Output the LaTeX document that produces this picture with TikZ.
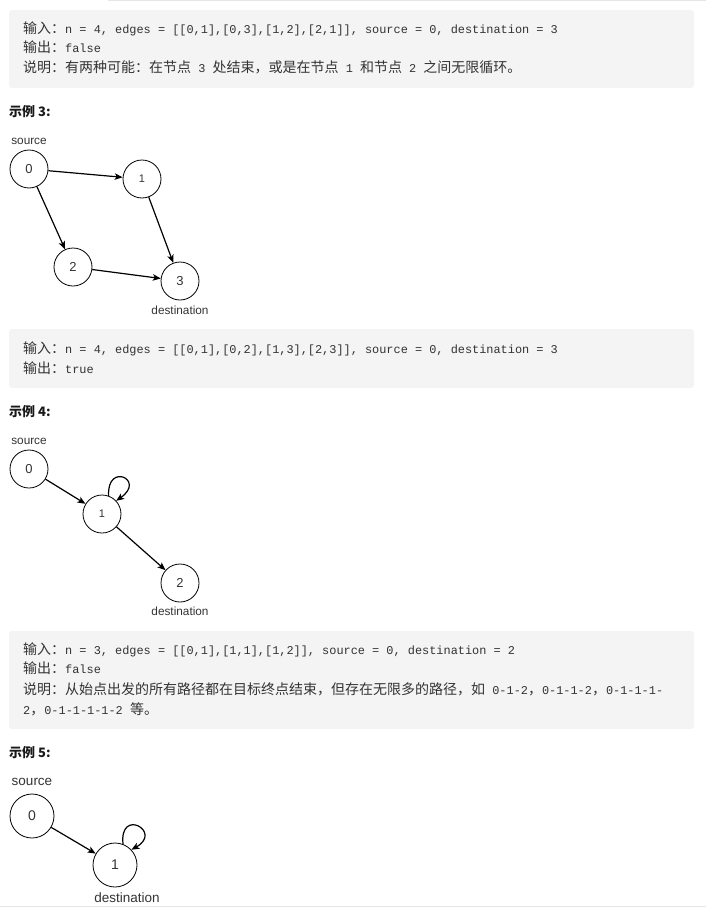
\documentclass[tikz,border=0pt]{standalone}
\usepackage{fontspec}
\usetikzlibrary{arrows.meta}
\setmainfont{Liberation Sans}
\newfontfamily\zhfont{Noto Sans CJK SC}
\newfontfamily\codefont{Liberation Mono}
\newcommand\zh[1]{{\zhfont\fontsize{14}{16}\selectfont #1}}
\definecolor{boxgray}{HTML}{F4F4F4}
\definecolor{txtgray}{HTML}{333333}
\definecolor{rulegray}{HTML}{E6E6E6}

\begin{document}
\begin{tikzpicture}[x=1pt,y=-1pt,
  codebox/.style={fill=boxgray, rounded corners=3pt},
  codeline/.style={anchor=base west, inner sep=0pt, text=txtgray, font=\codefont\fontsize{11.9}{14}\selectfont},
  heading/.style={anchor=base west, inner sep=0pt, text=black!90, font=\zhfont\bfseries\fontsize{13}{15}\selectfont},
  vertex/.style={circle, draw, line width=0.8pt, minimum size=38pt, inner sep=0pt, text=txtgray, font=\fontsize{13}{15}\selectfont},
  tag/.style={inner sep=0pt, text=txtgray, font=\fontsize{11.8}{13}\selectfont},
  edge/.style={line width=1.2pt, -{Stealth[length=8pt,width=6.5pt,inset=2pt]}}]

	\useasboundingbox (0,0) rectangle (706,910);
	\draw [rulegray] (108,0.5) -- (706,0.5);
	\draw [rulegray] (0,906.5) -- (706,906.5);

	% Example 2 output
	\fill [codebox] (9,10) rectangle (694,88);
	\node [codeline] (in2) at (23,33) {\zh{输入：}n = 4, edges = [[0,1],[0,3],[1,2],[2,1]], source = 0, destination = 3};
	\node [codeline] (out2) at (23,52) {\zh{输出：}false};
	\node [codeline] (why2) at (23,72) {\zh{说明：有两种可能：在节点} 3 \zh{处结束，或是在节点} 1 \zh{和节点} 2 \zh{之间无限循环。}};

	% Example 3
	\node [heading] (head3) at (9,116) {示例 3:};
	\node [tag] (src3) at (29,141) {source};
	\node [vertex] (a0) at (29,169) {0};
	\node [vertex, font=\fontsize{11}{13}\selectfont] (a1) at (142,179) {1};
	\node [vertex] (a2) at (73,267) {2};
	\node [vertex] (a3) at (180,281) {3};
	\node [tag] (dst3) at (180,310) {destination};
	\draw [edge] (a0) -- (a1);
	\draw [edge] (a0) -- (a2);
	\draw [edge] (a1) -- (a3);
	\draw [edge] (a2) -- (a3);

	\fill [codebox] (9,329) rectangle (694,388);
	\node [codeline] (in3) at (23,353) {\zh{输入：}n = 4, edges = [[0,1],[0,2],[1,3],[2,3]], source = 0, destination = 3};
	\node [codeline] (out3) at (23,373) {\zh{输出：}true};

	% Example 4
	\node [heading] (head4) at (9,416) {示例 4:};
	\node [tag] (src4) at (29,441) {source};
	\node [vertex] (b0) at (29,469) {0};
	\node [vertex, font=\fontsize{11}{13}\selectfont] (b1) at (102,514) {1};
	\node [vertex] (b2) at (180,583) {2};
	\node [tag] (dst4) at (180,611) {destination};
	\draw [edge] (b0) -- (b1);
	\draw [edge] (b1) -- (b2);
	\draw [edge] (b1.70) .. controls +(-2,-34) and +(30,-21) .. (b1.43);

	\fill [codebox] (9,631) rectangle (694,729);
	\node [codeline] (in4) at (23,654) {\zh{输入：}n = 3, edges = [[0,1],[1,1],[1,2]], source = 0, destination = 2};
	\node [codeline] (out4) at (23,673) {\zh{输出：}false};
	\node [codeline] (why4) at (23,694) {\zh{说明：从始点出发的所有路径都在目标终点结束，但存在无限多的路径，如} 0-1-2\zh{，}0-1-1-2\zh{，}0-1-1-1-};
	\node [codeline] (why4b) at (23,714) {2\zh{，}0-1-1-1-1-2 \zh{等。}};

	% Example 5
	\node [heading] (head5) at (9,757) {示例 5:};
	\node [tag, font=\fontsize{13.5}{15}\selectfont] (src5) at (32,782) {source};
	\node [vertex, minimum size=44pt, font=\fontsize{14}{16}\selectfont] (c0) at (32,816) {0};
	\node [vertex, minimum size=44pt, font=\fontsize{14}{16}\selectfont] (c1) at (115,865) {1};
	\node [tag, font=\fontsize{13.5}{15}\selectfont] (dst5) at (127,898) {destination};
	\draw [edge] (c0) -- (c1);
	\draw [edge] (c1.69) .. controls +(-4,-37) and +(32,-18) .. (c1.43);

\end{tikzpicture}
\end{document}
